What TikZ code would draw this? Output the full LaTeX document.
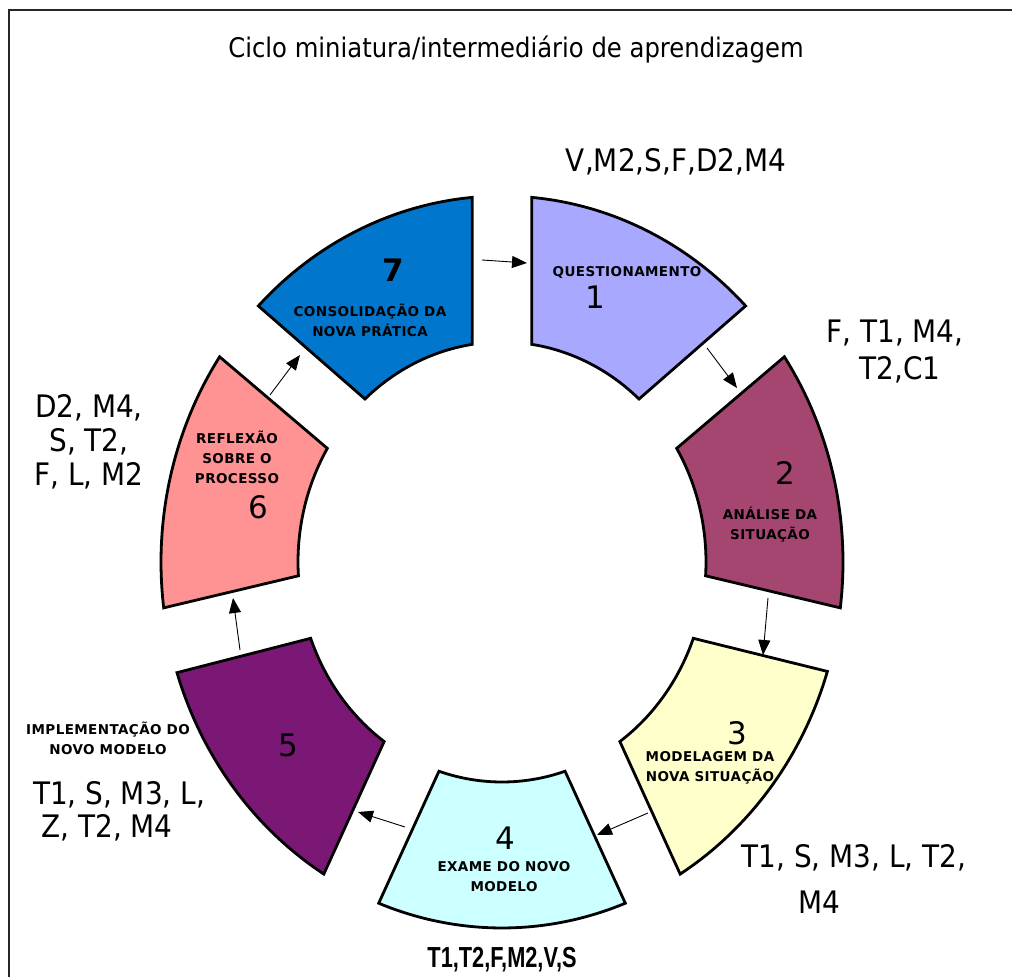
\documentclass[tikz,border=0pt]{standalone}
\usepackage{fontspec}
\setmainfont{DejaVu Sans}
\newfontfamily\annfont{DejaVu Sans}[FakeStretch=0.9]
\newfontfamily\lblfont{DejaVu Sans}[LetterSpace=3]
\newfontfamily\codefont{Liberation Sans}[FakeStretch=0.75]
\usetikzlibrary{arrows.meta,calc}

\definecolor{segQuest}{RGB}{168,168,255}
\definecolor{segAnal}{RGB}{165,70,112}
\definecolor{segModel}{RGB}{255,255,204}
\definecolor{segExam}{RGB}{204,255,255}
\definecolor{segImpl}{RGB}{123,24,118}
\definecolor{segRefl}{RGB}{255,147,147}
\definecolor{segCons}{RGB}{0,119,204}

\tikzset{
  sector/.style={draw=black, line width=2.8pt},
  lbl/.style={font=\lblfont\bfseries\fontsize{13.5}{20}\selectfont, align=center, inner sep=0pt},
  num/.style={font=\fontsize{31}{31}\selectfont, inner sep=0pt},
  ann/.style={font=\annfont\fontsize{31}{34}\selectfont, align=center, inner sep=0pt},
  flow/.style={line width=0.9pt, -{Triangle[length=15pt,width=12pt]}},
}

% one ring sector: fill colour, outer start/end angle, inner start/end angle
\newcommand\ringsector[5]{%
  \path[sector, fill=#1]
    ($(c)+(#2:341pt and 366pt)$)
    arc[start angle=#2, end angle=#3, x radius=341pt, y radius=366pt]
    -- ($(c)+(#4:204pt and 220pt)$)
    arc[start angle=#4, end angle=#5, x radius=204pt, y radius=220pt]
    -- cycle;}

\begin{document}
\begin{tikzpicture}[x=1pt,y=1pt]
\useasboundingbox (0,0) rectangle (1012,977);
\fill[white] (0,0) rectangle (1012,977);

% frame
\draw[line width=2.8pt, black!85] (9,-10) -- (9,967) -- (1030,967);

% title
\node[font=\annfont\fontsize{27}{30}\selectfont, inner sep=0pt] (title) at (516,927)
  {Ciclo miniatura/intermediário de aprendizagem};

% ring
\coordinate (c) at (502,415);
\ringsector{segQuest}{85}{44.4}{47.8}{81.6}
\ringsector{segAnal}{34.1}{-7.2}{-3.6}{31.1}
\ringsector{segModel}{-17.4}{-58.5}{-54.7}{-20.3}
\ringsector{segExam}{-68.8}{-111.2}{-108}{-72}
\ringsector{segImpl}{238.5}{197.6}{200.3}{234.7}
\ringsector{segRefl}{187.2}{145.9}{148.9}{183.6}
\ringsector{segCons}{135.6}{95}{98.4}{132.2}

% sector texts
\node[num, font=\bfseries\fontsize{31}{31}\selectfont] (n7) at (393,707) {7};
\node[lbl] (t7) at (370,657) {CONSOLIDAÇÃO DA\\NOVA PRÁTICA};
\node[lbl] (t1) at (627,705) {QUESTIONAMENTO};
\node[num] (n1) at (595,680) {1};
\node[num] (n2) at (785,504) {2};
\node[lbl] (t2) at (770,452) {ANÁLISE DA\\SITUAÇÃO};
\node[num] (n3) at (737,244) {3};
\node[lbl] (t3) at (710,209) {MODELAGEM DA\\NOVA SITUAÇÃO};
\node[num] (n4) at (505,139) {4};
\node[lbl] (t4) at (504,100) {EXAME DO NOVO\\MODELO};
\node[num] (n5) at (288,232) {5};
\node[lbl] (t5) at (108,239) {IMPLEMENTAÇÃO DO\\NOVO MODELO};
\node[lbl] (t6) at (237,520) {REFLEXÃO\\SOBRE O\\PROCESSO};
\node[num] (n6) at (258,470) {6};

% annotations
\node[ann] (a1) at (676,815) {V,M2,S,F,D2,M4};
\node[ann] (a2a) at (895,644) {F, T1, M4,};
\node[ann] (a2b) at (900,607) {T2,C1};
\node[ann] (a6) at (89,535) {D2, M4,\\S, T2,\\F, L, M2};
\node[ann] (a5a) at (119,182) {T1, S, M3, L,};
\node[ann] (a5b) at (107,149) {Z, T2, M4};
\node[ann] (a3a) at (854,119) {T1, S, M3, L, T2,};
\node[ann] (a3b) at (819,75) {M4};
\node[font=\codefont\bfseries\fontsize{29}{30}\selectfont, inner sep=0pt] (a4) at (502,17) {T1,T2,F,M2,V,S};

% flow arrows between sectors
\coordinate (p71) at (482,717); \coordinate (q71) at (527,714);
\coordinate (p12) at (707,629); \coordinate (q12) at (737,589);
\coordinate (p23) at (768,379); \coordinate (q23) at (763,322);
\coordinate (p34) at (648,164); \coordinate (q34) at (597,142);
\coordinate (p45) at (405,150); \coordinate (q45) at (358,165);
\coordinate (p56) at (240,327); \coordinate (q56) at (233,379);
\coordinate (p67) at (270,582); \coordinate (q67) at (300,622);
\draw[flow] (p71) -- (q71);
\draw[flow] (p12) -- (q12);
\draw[flow] (p23) -- (q23);
\draw[flow] (p34) -- (q34);
\draw[flow] (p45) -- (q45);
\draw[flow] (p56) -- (q56);
\draw[flow] (p67) -- (q67);
\end{tikzpicture}
\end{document}
